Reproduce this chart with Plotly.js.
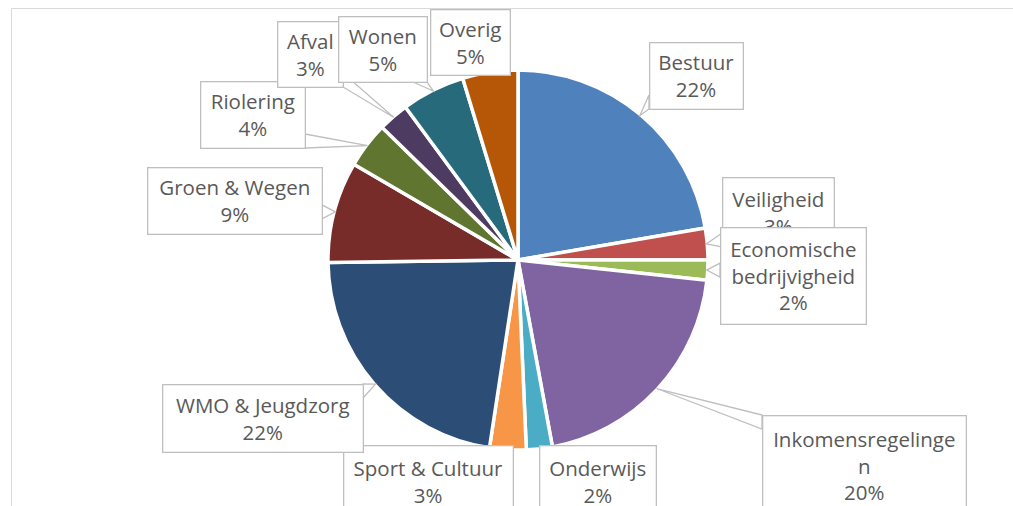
<!DOCTYPE html>
<html>
<head>
<meta charset="utf-8">
<script src="https://cdn.plot.ly/plotly-3.0.1.min.js"></script>
<style>html,body{margin:0;padding:0;background:#fff;}#chart{width:1013px;height:506px;}</style>
</head>
<body>
<div id="chart"></div>
<script>
// ---- data ----
const categories = ['Bestuur','Veiligheid','Economische bedrijvigheid','Inkomensregelingen','Onderwijs','Sport & Cultuur','WMO & Jeugdzorg','Groen & Wegen','Riolering','Afval','Wonen','Overig'];
const shares = [22.3, 2.7, 1.7, 20.4, 2.2, 3.1, 22.4, 8.6, 3.9, 2.6, 5.4, 4.7];
const labelTexts = ['Bestuur','Veiligheid','Economische<br>bedrijvigheid','Inkomensregelinge<br>n','Onderwijs','Sport & Cultuur','WMO & Jeugdzorg','Groen & Wegen','Riolering','Afval','Wonen','Overig'];

// ---- style / layout ----
const colors = ['#4F81BD','#C0504D','#9BBB59','#8064A2','#4BACC6','#F79646','#2C4D75','#772C2A','#5F7530','#4D3B62','#276A7C','#B65708'];
const W = 1013, H = 506;
const pieDomain = {x:[328/W, 708/W], y:[56/H, 436/H]};
// label boxes: [left, top, right, bottom] in px
const labelBoxes = [
  [649,42,743,109],
  [722,177,834,247],
  [720,227,866,324],
  [762,415,966,516],
  [539,445,656,517],
  [343,445,513,517],
  [162,384,363,452],
  [147,167,322,234],
  [200,81,305,148],
  [277,21,343,87],
  [338,16,427,82],
  [430,9,510,75]
];
const boxLine = '#BFBFBF', textColor = '#595959';

const total = shares.reduce((a,b)=>a+b,0);
const cx = W*(pieDomain.x[0]+pieDomain.x[1])/2;
const cy = H*(1-(pieDomain.y[0]+pieDomain.y[1])/2);
const R = Math.min(W*(pieDomain.x[1]-pieDomain.x[0]), H*(pieDomain.y[1]-pieDomain.y[0]))/2 - 1;
const px = x => x/W, py = y => 1 - y/H;
const clamp = (v,a,b) => Math.max(a, Math.min(b, v));

const annotations = [];
const shapes = [{
  type:'rect', xref:'paper', yref:'paper', x0:px(11.5), x1:1.05, y0:-0.05, y1:py(8.5),
  line:{color:'#D9D9D9', width:1}, fillcolor:'rgba(0,0,0,0)', layer:'below'
}];

let cum = 0;
categories.forEach((c,i)=>{
  const mid = (cum + shares[i]/2)/total; cum += shares[i];
  const th = mid*2*Math.PI;
  const tx = cx + R*Math.sin(th), ty = cy - R*Math.cos(th);
  const [l,t,r,b] = labelBoxes[i];
  const nx = clamp(tx,l,r), ny = clamp(ty,t,b);
  const d = Math.hypot(tx-nx, ty-ny);
  if (d > 4) {
    let p1, p2;
    const half = 7;
    const vertEdge = (tx < l || tx > r) && ((ty >= t && ty <= b) || Math.abs(tx-nx) > Math.abs(ty-ny));
    if (vertEdge) {
      let y1 = clamp(ny - half, t, b - 2*half);
      p1 = [nx, y1]; p2 = [nx, y1 + 2*half];
    } else {
      let x1 = clamp(nx - half, l, r - 2*half);
      p1 = [x1, ny]; p2 = [x1 + 2*half, ny];
    }
    shapes.push({
      type:'path', xref:'paper', yref:'paper', layer:'above',
      path:`M ${px(p1[0])},${py(p1[1])} L ${px(tx)},${py(ty)} L ${px(p2[0])},${py(p2[1])} Z`,
      fillcolor:'#FFFFFF', line:{color:boxLine, width:1.3}
    });
  }
  const pct = Math.round(shares[i]/total*100) + '%';
  annotations.push({
    xref:'paper', yref:'paper', x:px(l), y:py(t), xanchor:'left', yanchor:'top',
    width:(r-l)-2, height:(b-t)-2, borderpad:0, borderwidth:1.3,
    bordercolor:boxLine, bgcolor:'#FFFFFF', showarrow:false, align:'center', valign:'middle',
    text: labelTexts[i] + '<br>' + pct,
    font:{family:'Open Sans, sans-serif', size:20.5, color:textColor}
  });
});

const data = [{
  type:'pie', labels:categories, values:shares, sort:false, direction:'clockwise', rotation:0,
  marker:{colors:colors, line:{color:'#FFFFFF', width:3.5}},
  textinfo:'none', hoverinfo:'none', domain:pieDomain, showlegend:false
}];

const layout = {
  width:W, height:H, margin:{l:0,r:0,t:0,b:0},
  paper_bgcolor:'#FFFFFF', plot_bgcolor:'#FFFFFF', showlegend:false,
  shapes:shapes, annotations:annotations
};
Plotly.newPlot('chart', data, layout, {displayModeBar:false, staticPlot:true});
</script>
</body>
</html>
